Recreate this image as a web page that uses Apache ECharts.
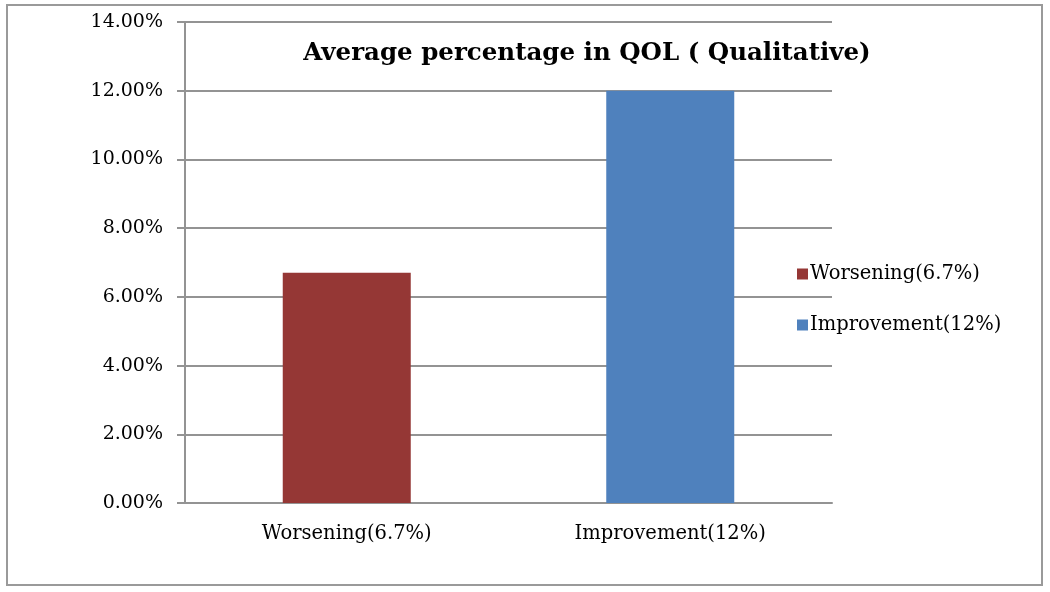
<!DOCTYPE html>
<html>
<head>
<meta charset="utf-8">
<script src="https://cdn.jsdelivr.net/npm/echarts@6/dist/echarts.min.js"></script>
<style>
  html, body { margin: 0; padding: 0; background: #fff; }
  #chart { width: 1050px; height: 592px; }
</style>
</head>
<body>
<div id="chart"></div>
<script>
// data
const categories = ['Worsening(6.7%)', 'Improvement(12%)']
const worsening = [0.067, null]
const improvement = [null, 0.12]
const seriesNames = ['Worsening(6.7%)', 'Improvement(12%)']
const colors = ['#953735', '#4f81bd']

const fontFamily = '"DejaVu Serif", serif'
const lineColor = '#939393'
const chart = echarts.init(document.getElementById('chart'))

const option = {
  animation: false,
  title: {
    text: 'Average percentage in QOL ( Qualitative)',
    left: 582,
    top: 36,
    textAlign: 'center',
    textStyle: { fontFamily, fontSize: 24.5, fontWeight: 'bold', color: '#000' }
  },
  legend: {
    orient: 'vertical',
    left: 792,
    top: 259,
    itemWidth: 11,
    itemHeight: 11,
    itemGap: 31,
    icon: 'rect',
    textStyle: { fontFamily, fontSize: 19.5, color: '#000', padding: [0, 0, 0, -3] },
    data: seriesNames
  },
  grid: { left: 185, right: 218, top: 22, bottom: 89 },
  xAxis: {
    type: 'category',
    data: categories,
    axisLine: { lineStyle: { color: lineColor, width: 2 } },
    axisTick: { length: 7, lineStyle: { color: lineColor, width: 2 } },
    axisLabel: { fontFamily, fontSize: 19.5, color: '#000', margin: 21 }
  },
  yAxis: {
    type: 'value',
    min: 0,
    max: 0.14,
    interval: 0.02,
    axisLine: { show: true, lineStyle: { color: lineColor, width: 2 } },
    axisTick: { show: true, length: 8, lineStyle: { color: lineColor, width: 2 } },
    splitLine: { lineStyle: { color: lineColor, width: 2 } },
    axisLabel: {
      fontFamily, fontSize: 19, color: '#000', margin: 22,
      formatter: v => (v * 100).toFixed(2) + '%'
    }
  },
  series: [
    { name: seriesNames[0], type: 'bar', stack: 'q', barWidth: 128, data: worsening, itemStyle: { color: colors[0] } },
    { name: seriesNames[1], type: 'bar', stack: 'q', barWidth: 128, data: improvement, itemStyle: { color: colors[1] } }
  ],
  graphic: [{
    type: 'rect',
    shape: { x: 7, y: 5, width: 1035, height: 580 },
    style: { fill: null, stroke: '#9a9a9a', lineWidth: 2 },
    z: -1
  }]
}

chart.setOption(option)
</script>
</body>
</html>
